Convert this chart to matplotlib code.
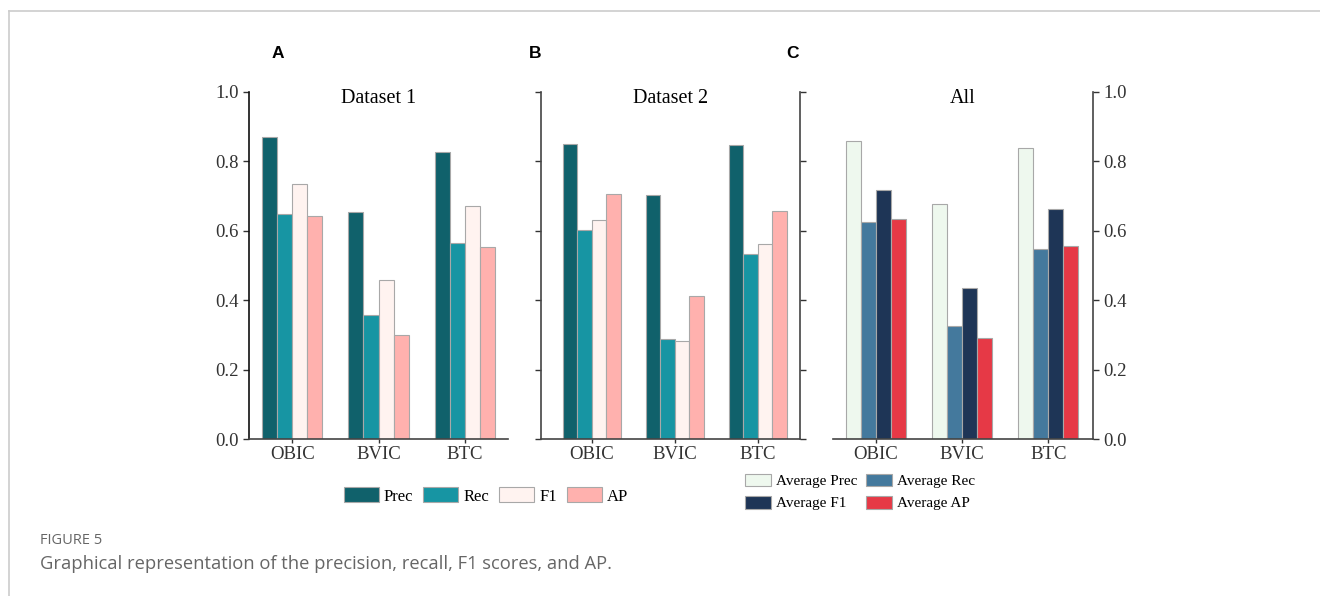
import matplotlib
matplotlib.use("Agg")
import matplotlib.pyplot as plt
import numpy as np
from matplotlib.lines import Line2D
from matplotlib.patches import Patch

# categories and metric values
methods = ["OBIC", "BVIC", "BTC"]

d1_prec = [0.869, 0.653, 0.828]
d1_rec = [0.649, 0.357, 0.565]
d1_f1 = [0.734, 0.458, 0.671]
d1_ap = [0.642, 0.300, 0.552]

d2_prec = [0.849, 0.702, 0.848]
d2_rec = [0.601, 0.289, 0.533]
d2_f1 = [0.631, 0.282, 0.562]
d2_ap = [0.705, 0.411, 0.656]

avg_prec = [0.860, 0.678, 0.839]
avg_rec = [0.625, 0.326, 0.548]
avg_f1 = [0.719, 0.435, 0.663]
avg_ap = [0.635, 0.291, 0.556]

ds_colors = ["#10616b", "#1795a3", "#fff3f0", "#ffb1ae"]
avg_colors = ["#eef8ee", "#44799d", "#1e3556", "#e63946"]
edge = "#a8a8a8"

serif = "Liberation Serif"
W, H = 1320, 596
fig = plt.figure(figsize=(W / 100, H / 100), dpi=100)


def px_axes(left, right, top, bottom):
    return fig.add_axes([left / W, (H - bottom) / H, (right - left) / W, (bottom - top) / H])


def draw_bars(ax, series, colors, xlim):
    x = np.arange(len(methods))
    bw = 0.175
    for i, (vals, c) in enumerate(zip(series, colors)):
        ax.bar(x + (i - 1.5) * bw, vals, bw, color=c, edgecolor=edge, linewidth=0.8, zorder=2)
    ax.set_xlim(*xlim)
    ax.set_ylim(0, 1.0)
    ax.set_xticks(x)
    ax.set_xticklabels(methods, fontfamily=serif, fontsize=13.5)
    ax.tick_params(axis="x", length=3, width=1, pad=2, colors="#333333")
    ax.tick_params(axis="y", length=4, width=1, colors="#333333", labelsize=13.5)
    ax.set_yticks(np.arange(0, 1.01, 0.2))
    for s in ax.spines.values():
        s.set_color("#444444")
        s.set_linewidth(1.2)


axA = px_axes(249, 508, 92, 439)
draw_bars(axA, [d1_prec, d1_rec, d1_f1, d1_ap], ds_colors, (-0.5, 2.5))
axA.spines["top"].set_visible(False)
axA.spines["right"].set_visible(False)
axA.spines["left"].set_color("#111111")
axA.set_yticklabels([f"{v:.1f}" for v in np.arange(0, 1.01, 0.2)], fontfamily=serif)
axA.text(0.5, 0.982, "Dataset 1", transform=axA.transAxes, ha="center", va="center",
         fontfamily=serif, fontsize=14.5)

axB = px_axes(541, 800, 92, 439)
draw_bars(axB, [d2_prec, d2_rec, d2_f1, d2_ap], ds_colors, (-0.61, 2.51))
axB.spines["top"].set_visible(False)
axB.tick_params(axis="y", left=True, right=True, labelleft=False, labelright=False)
axB.text(0.5, 0.982, "Dataset 2", transform=axB.transAxes, ha="center", va="center",
         fontfamily=serif, fontsize=14.5)

axC = px_axes(833, 1093, 92, 439)
draw_bars(axC, [avg_prec, avg_rec, avg_f1, avg_ap], avg_colors, (-0.5, 2.52))
axC.spines["top"].set_visible(False)
axC.spines["left"].set_visible(False)
axC.yaxis.tick_right()
axC.set_yticklabels([f"{v:.1f}" for v in np.arange(0, 1.01, 0.2)], fontfamily=serif)
axC.text(0.5, 0.982, "All", transform=axC.transAxes, ha="center", va="center",
         fontfamily=serif, fontsize=14.5)

# panel letters
for lbl, xp in [("A", 278), ("B", 535), ("C", 793)]:
    fig.text(xp / W, 1 - 53 / H, lbl, ha="center", va="center", fontsize=12.5,
             fontweight="bold", fontfamily="Liberation Sans")

# legends
h1 = [Patch(facecolor=c, edgecolor=edge, linewidth=0.8) for c in ds_colors]
fig.legend(h1, ["Prec", "Rec", "F1", "AP"], loc="center", bbox_to_anchor=(486 / W, 1 - 496 / H),
           ncol=4, frameon=False, prop={"family": serif, "size": 12},
           handlelength=2.1, handleheight=1.0, handletextpad=0.3, columnspacing=0.6)

h2 = [Patch(facecolor=c, edgecolor=edge, linewidth=0.8) for c in avg_colors]
order = [0, 2, 1, 3]
names = ["Average Prec", "Average Rec", "Average F1", "Average AP"]
fig.legend([h2[i] for i in order], [names[i] for i in order], loc="center",
           bbox_to_anchor=(860 / W, 1 - 492 / H), ncol=2, frameon=False,
           prop={"family": serif, "size": 11}, handlelength=1.7, handleheight=0.9,
           handletextpad=0.3, columnspacing=0.6, labelspacing=0.5)

# caption and frame
fig.text(40 / W, 1 - 541 / H, "FIGURE 5", ha="left", va="center", fontsize=10.5,
         color="#666666", fontfamily="Open Sans")
fig.text(40 / W, 1 - 564 / H, "Graphical representation of the precision, recall, F1 scores, and AP.",
         ha="left", va="center", fontsize=13.2, color="#666666", fontfamily="Open Sans")
fig.add_artist(Line2D([9 / W, 1], [1 - 11 / H, 1 - 11 / H], color="#cccccc", lw=1.2,
                      transform=fig.transFigure))
fig.add_artist(Line2D([9 / W, 9 / W], [0, 1 - 11 / H], color="#cccccc", lw=1.2,
                      transform=fig.transFigure))

fig.savefig("out.png", dpi=100)
